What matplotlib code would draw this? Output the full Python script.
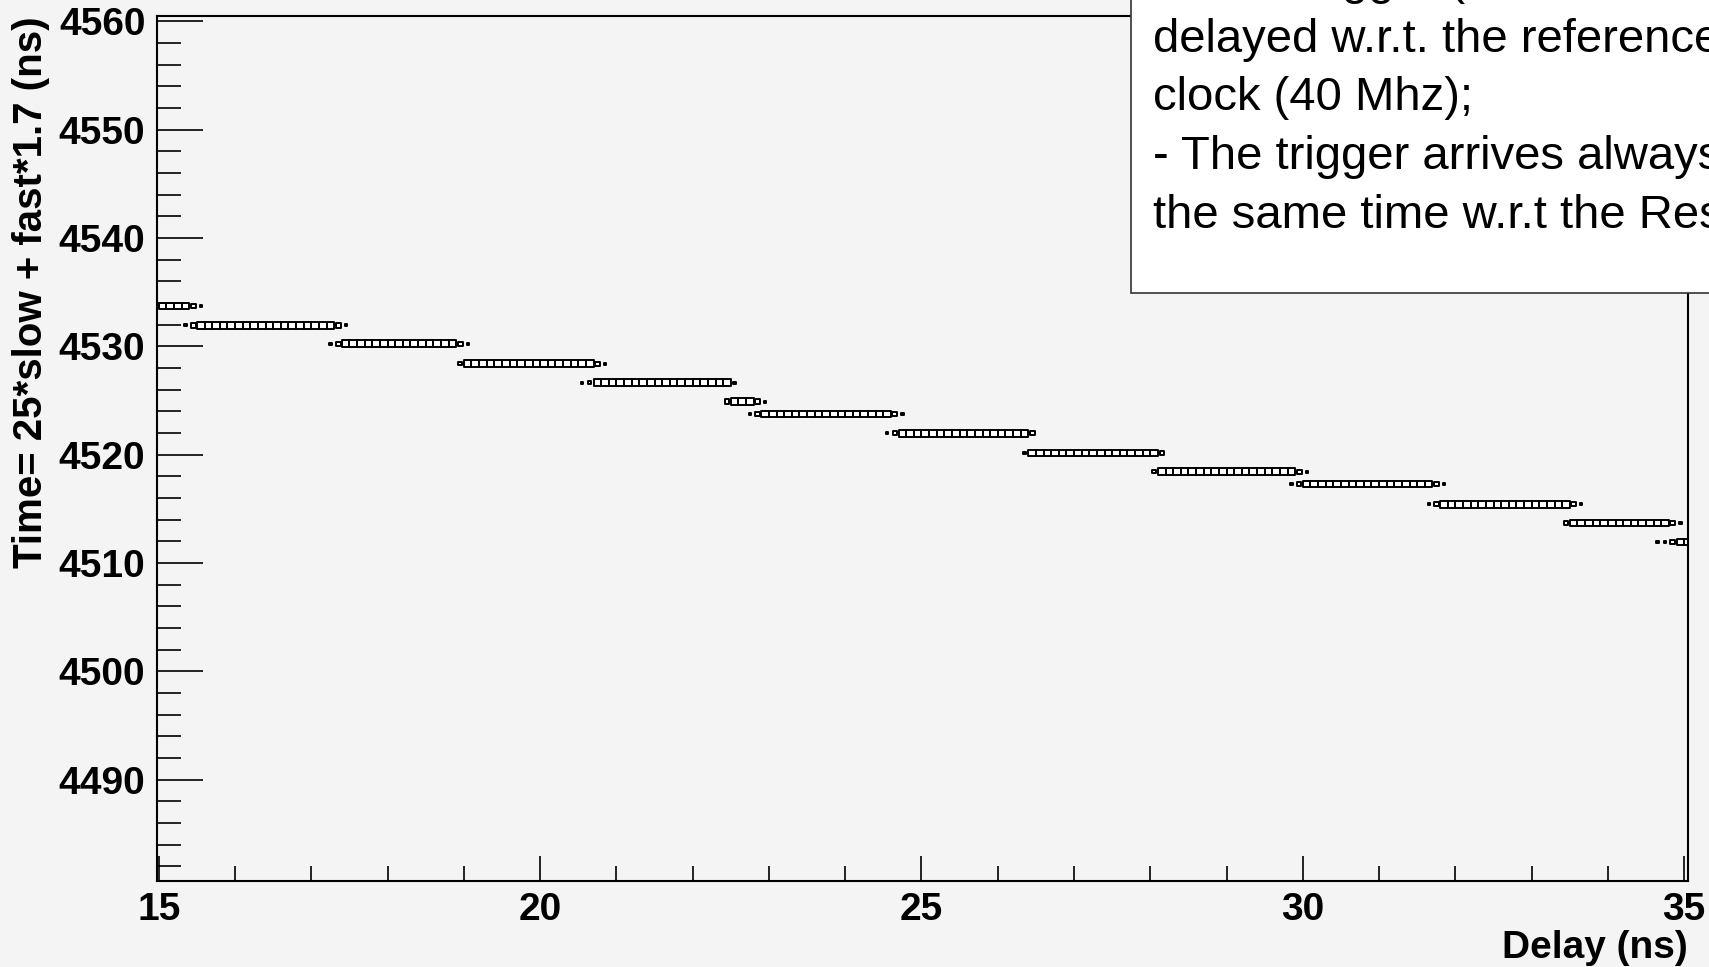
import matplotlib
matplotlib.use("Agg")
import matplotlib.pyplot as plt
from matplotlib.patches import Rectangle
from matplotlib.collections import PatchCollection
from matplotlib.ticker import MultipleLocator

# rows of the 2D histogram: y level and first/last fully filled x bin
row_y = [4533.73, 4531.94, 4530.25, 4528.40, 4526.64, 4524.91, 4523.77,
         4521.98, 4520.16, 4518.43, 4517.29, 4515.43, 4513.70, 4511.94]
row_x_first = [15.05, 15.55, 17.45, 19.05, 20.75, 22.55, 22.95,
               24.75, 26.45, 28.15, 30.05, 31.85, 33.55, 34.95]
row_x_last = [15.35, 17.25, 18.85, 20.65, 22.45, 22.75, 24.55,
              26.35, 28.05, 29.85, 31.65, 33.45, 34.75, 35.05]

# partly filled bins at the row ends (row index, x bin, relative content)
part_row = [0, 0, 1, 1, 1, 1, 2, 2, 2, 2, 3, 3, 3, 4, 4, 4, 5, 5, 5,
            6, 6, 6, 6, 7, 7, 7, 8, 8, 9, 9, 9, 10, 10, 10, 10,
            11, 11, 11, 11, 12, 12, 12, 13, 13, 13]
part_x = [15.45, 15.55, 15.35, 15.45, 17.35, 17.45, 17.25, 17.35, 18.95, 19.05,
          18.95, 20.75, 20.85, 20.55, 20.65, 22.55, 22.45, 22.85, 22.95,
          22.75, 22.85, 24.65, 24.75, 24.55, 24.65, 26.45, 26.35, 28.15,
          28.05, 29.95, 30.05, 29.85, 29.95, 31.75, 31.85,
          31.65, 31.75, 33.55, 33.65, 33.45, 34.85, 34.95, 34.65, 34.75, 34.85]
part_frac = [0.65, 0.3, 0.3, 0.65, 0.65, 0.3, 0.3, 0.65, 0.65, 0.3,
             0.5, 0.65, 0.3, 0.3, 0.45, 0.3, 0.65, 0.65, 0.3,
             0.3, 0.65, 0.65, 0.3, 0.3, 0.6, 0.65, 0.35, 0.55,
             0.45, 0.65, 0.3, 0.3, 0.6, 0.65, 0.3,
             0.3, 0.6, 0.6, 0.3, 0.6, 0.65, 0.3, 0.3, 0.3, 0.65]

xticks = [15, 20, 25, 30, 35]
yticks = [4490, 4500, 4510, 4520, 4530, 4540, 4550, 4560]

note_lines = ["- Each trigger (Level-1 Accept) is",
              "delayed w.r.t. the reference",
              "clock (40 Mhz);",
              "- The trigger arrives always at",
              "the same time w.r.t the Resync"]

dx, dy = 0.1, 0.62
bg = "#f4f4f4"

plt.rcParams['font.family'] = ['Liberation Sans', 'DejaVu Sans']

fig = plt.figure(figsize=(17.09, 9.67), dpi=100, facecolor=bg)
ax = fig.add_axes([156.5 / 1709, 86 / 967, 1531.5 / 1709, 865 / 967])
ax.set_facecolor(bg)

# build the boxes (size proportional to bin content, like ROOT "BOX")
boxes = []
for y, x0, x1 in zip(row_y, row_x_first, row_x_last):
    n = int(round((x1 - x0) / dx)) + 1
    for i in range(n):
        xc = x0 + i * dx
        boxes.append(Rectangle((xc - dx / 2, y - dy / 2), dx, dy))
for r, xc, f in zip(part_row, part_x, part_frac):
    y = row_y[r]
    boxes.append(Rectangle((xc - f * dx / 2, y - f * dy / 2), f * dx, f * dy))
ax.add_collection(PatchCollection(boxes, facecolor="white", edgecolor="black",
                                  linewidth=1.4))

ax.set_xlim(14.97, 35.05)
ax.set_ylim(4480.65, 4560.5)
ax.set_xticks(xticks)
ax.set_yticks(yticks)
ax.xaxis.set_minor_locator(MultipleLocator(1))
ax.yaxis.set_minor_locator(MultipleLocator(2))
ax.tick_params(axis="x", which="major", direction="in", length=18, width=1.2,
               pad=8, labelsize=28)
ax.tick_params(axis="x", which="minor", direction="in", length=10.5, width=1.2)
ax.tick_params(axis="y", which="major", direction="in", length=33, width=1.2,
               pad=8, labelsize=28)
ax.tick_params(axis="y", which="minor", direction="in", length=17, width=1.2)
for lab in ax.get_xticklabels() + ax.get_yticklabels():
    lab.set_fontweight("bold")
for sp in ax.spines.values():
    sp.set_linewidth(1.5)

ax.set_xlabel("Delay (ns)", fontsize=28, fontweight="bold", loc="right")
ax.xaxis.set_label_coords(1.0, -0.089)
ax.xaxis.label.set_va("baseline")
ax.set_ylabel("Time= 25*slow + fast*1.7 (ns)", fontsize=29,
              fontweight="bold", loc="top")
ax.yaxis.set_label_coords(-0.082, 1.0)
ax.yaxis.label.set_va("center")

# note box in the top right corner, partly outside the picture
note = Rectangle((1131 / 1709, 1 - 293 / 967), 0.4, 0.4, transform=fig.transFigure,
                 facecolor="white", edgecolor="#333333", linewidth=1.2, zorder=5)
fig.add_artist(note)
for i, line in enumerate(note_lines):
    yb = -6.5 + 58.5 * i
    fig.text(1153 / 1709, 1 - yb / 967, line, fontsize=34, va="baseline",
             ha="left", zorder=6)

fig.savefig("out.png", dpi=100, facecolor=bg)
